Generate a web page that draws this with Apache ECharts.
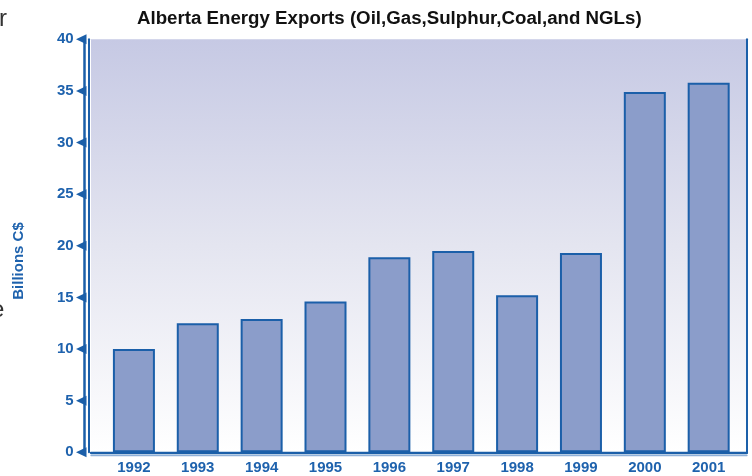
<!DOCTYPE html>
<html>
<head>
<meta charset="utf-8">
<script src="https://cdn.jsdelivr.net/npm/echarts@6/dist/echarts.min.js"></script>
<style>
html,body{margin:0;padding:0;background:#fff;}
#chart{width:752px;height:476px;}
</style>
</head>
<body>
<div id="chart"></div>
<script>
const years = ['1992','1993','1994','1995','1996','1997','1998','1999','2000','2001'];
const exportsBillions = [10.0, 12.5, 12.9, 14.6, 18.9, 19.5, 15.2, 19.3, 34.9, 35.8];
const yTicks = [0, 5, 10, 15, 20, 25, 30, 35, 40];
const titleText = 'Alberta Energy Exports (Oil,Gas,Sulphur,Coal,and NGLs)';
const yName = 'Billions C$';

const BLUE = '#1b5fa9';
const LABEL = '#1e62ad';
const xMin = -0.672, xMax = 9.6;
const font = '"Liberation Sans", Arial, sans-serif';

const chart = echarts.init(document.getElementById('chart'));
const yBase = {type:'value', min:0, max:40, interval:5, splitLine:{show:false}};
chart.setOption({
  animation: false,
  title: {
    text: titleText, left: 137, top: 9, padding: 0,
    textStyle: {fontFamily: font, fontWeight: 'bold', fontSize: 18.7, color: '#111'}
  },
  graphic: [
    {type:'text', x: 19, y: 261, rotation: Math.PI/2,
     style:{text: yName, fill: LABEL, font: 'bold 15px ' + font, align:'center', verticalAlign:'middle'}},
    {type:'text', x: -1, y: 19,
     style:{text: 'r', fill: '#333', font: '24px ' + font, align:'left', verticalAlign:'middle'}},
    {type:'text', x: -9, y: 310,
     style:{text: 'e', fill: '#333', font: '24px ' + font, align:'left', verticalAlign:'middle'}}
  ],
  grid: {
    left: 91, right: 5, top: 39.3, bottom: 23.7, show: true, borderWidth: 0,
    backgroundColor: new echarts.graphic.LinearGradient(0, 0, 0, 1, [
      {offset: 0, color: '#c6c9e4'},
      {offset: 0.5, color: '#e4e5f0'},
      {offset: 1, color: '#ffffff'}
    ])
  },
  xAxis: [
    {type:'value', min:xMin, max:xMax, position:'bottom',
     axisLine:{show:true, onZero:false, lineStyle:{color:BLUE, width:2.3}},
     axisTick:{show:false}, splitLine:{show:false},
     axisLabel:{customValues: years.map((y,i)=>i), formatter: v => years[Math.round(v)] || '',
       margin: 8, color: LABEL, fontFamily: font, fontWeight:'bold', fontSize: 15}},
    {type:'value', min:xMin, max:xMax, position:'bottom', offset: 3,
     axisLine:{show:true, onZero:false, lineStyle:{color:'#8fb0d8', width:1.3}},
     axisTick:{show:false}, splitLine:{show:false}, axisLabel:{show:false}}
  ],
  yAxis: [
    Object.assign({}, yBase, {position:'left', offset: 2.7,
      axisLine:{show:true, onZero:false, lineStyle:{color:BLUE, width:2}}, axisTick:{show:false}, axisLabel:{show:false}}),
    Object.assign({}, yBase, {position:'left', offset: 6.3,
      axisLine:{show:true, onZero:false, lineStyle:{color:BLUE, width:2.5}}, axisTick:{show:false},
      axisLabel:{margin: 11, color: LABEL, fontFamily: font, fontWeight:'bold', fontSize: 15}}),
    Object.assign({}, yBase, {position:'right', offset: 0,
      axisLine:{show:true, onZero:false, lineStyle:{color:BLUE, width:2}}, axisTick:{show:false}, axisLabel:{show:false}})
  ],
  series: [
    {type:'bar', xAxisIndex:0, yAxisIndex:0, barWidth: 42,
     data: exportsBillions.map((v,i)=>[i, v]),
     itemStyle:{color:'#8b9dca', borderColor: BLUE, borderWidth: 2}},
    {type:'custom', xAxisIndex:0, yAxisIndex:0, clip:false, z: 5,
     data: yTicks.map(v => [xMin, v]),
     renderItem: function(params, api){
       const p = api.coord([api.value(0), api.value(1)]);
       return {type:'polygon', shape:{points:[[p[0]-15, p[1]], [p[0]-4.5, p[1]-5], [p[0]-4.5, p[1]+5]]},
               style:{fill: BLUE}};
     }}
  ]
});
</script>
</body>
</html>
